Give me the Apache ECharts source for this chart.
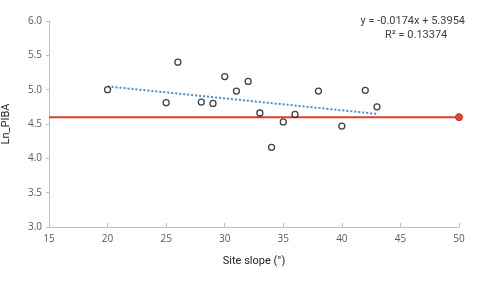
<!DOCTYPE html>
<html><head><meta charset="utf-8">
<script src="https://cdn.jsdelivr.net/npm/echarts@6/dist/echarts.min.js"></script>
<style>html,body{margin:0;padding:0;background:#fff}#c{width:477px;height:282px}</style>
</head><body><div id="c"></div>
<script>
var slopes = [20, 25, 26, 28, 29, 30, 31, 32, 33, 34, 35, 36, 38, 40, 42, 43];
var lnPIBA = [5.00, 4.81, 5.40, 4.82, 4.80, 5.19, 4.98, 5.12, 4.66, 4.16, 4.53, 4.64, 4.98, 4.47, 4.99, 4.75];
var trendX = [20, 43];
var trendSlope = -0.0174, trendIntercept = 5.3954;
var refY = 4.6;
var refX = [15, 50];
var xTicks = [15, 20, 25, 30, 35, 40, 45, 50];
var yTicks = [3.0, 3.5, 4.0, 4.5, 5.0, 5.5, 6.0];

var pts = slopes.map(function(x, i){ return [x, lnPIBA[i]]; });
var trend = trendX.map(function(x){ return [x, trendSlope * x + trendIntercept]; });
var ref = refX.map(function(x){ return [x, refY]; });

var chart = echarts.init(document.getElementById('c'));
var txt = '#595959';
var ff = 'Open Sans';
chart.setOption({
  animation: false,
  grid: {left: 49, right: 18, top: 21, bottom: 55, containLabel: false, outerBoundsMode: 'none'},
  xAxis: {
    type: 'value', min: 15, max: 50, interval: 5,
    name: 'Site slope (°)', nameLocation: 'middle', nameGap: 29,
    nameTextStyle: {color: '#222', fontSize: 11, fontFamily: 'Roboto'},
    axisLine: {lineStyle: {color: '#bfbfbf'}},
    axisTick: {show: true, inside: true, length: 4, lineStyle: {color: '#bfbfbf'}},
    axisLabel: {color: txt, fontSize: 10, fontFamily: ff, margin: 7},
    splitLine: {show: false}
  },
  yAxis: {
    type: 'value', min: 3, max: 6, interval: 0.5,
    name: 'Ln_PIBA', nameLocation: 'middle', nameGap: 37, nameRotate: 90,
    nameTextStyle: {color: '#222', fontSize: 11, fontFamily: 'Roboto'},
    axisLine: {show: true, lineStyle: {color: '#bfbfbf'}},
    axisTick: {show: true, length: 3, lineStyle: {color: '#bfbfbf'}},
    axisLabel: {color: txt, fontSize: 10, fontFamily: ff, margin: 7,
      formatter: function(v){ return v.toFixed(1); }},
    splitLine: {show: false}
  },
  series: [
    {type: 'line', data: ref, symbol: 'none',
      lineStyle: {color: '#e03c31', width: 2}, z: 2,
      markPoint: {symbol: 'circle', symbolSize: 7,
        itemStyle: {color: '#e8463a', borderColor: '#c0302a', borderWidth: 1},
        label: {show: false}, data: [{coord: [50, refY]}]}},
    {type: 'line', data: trend, symbol: 'none',
      lineStyle: {color: '#4a8ccc', width: 2, type: [2, 2]}, z: 3},
    {type: 'scatter', data: pts, symbol: 'circle', symbolSize: 6,
      itemStyle: {color: '#fff', borderColor: '#111', borderWidth: 1.3}, z: 4}
  ],
  graphic: [
    {type: 'text', right: 12, top: 16, style: {text: 'y = -0.0174x + 5.3954', fill: '#404040', font: '11px Roboto', textAlign: 'right'}},
    {type: 'text', left: 385, top: 30, style: {text: 'R² = 0.13374', fill: '#404040', font: '11px Roboto'}}
  ]
});
</script></body></html>
